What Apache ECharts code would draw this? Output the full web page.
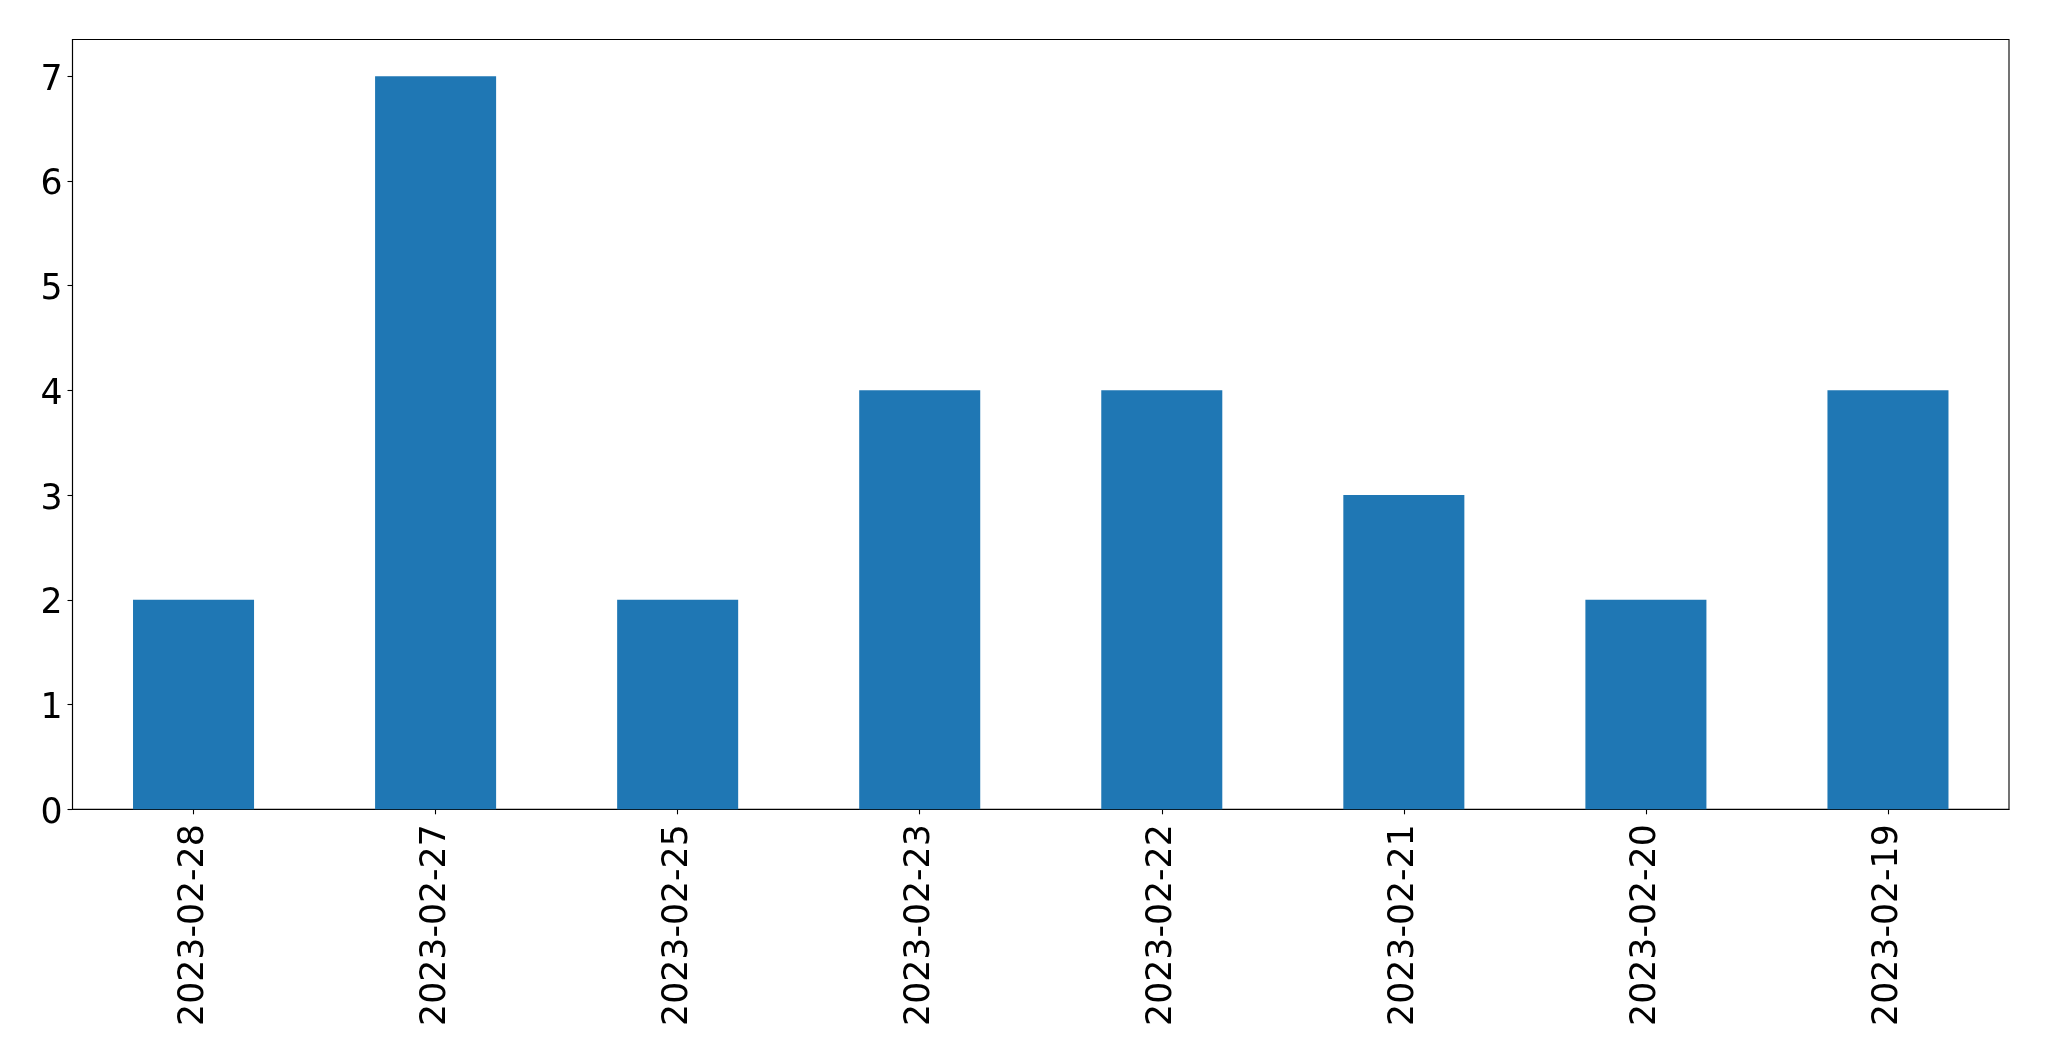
<!DOCTYPE html>
<html><head><meta charset="utf-8">
<script src="https://cdn.jsdelivr.net/npm/echarts@6/dist/echarts.min.js"></script>
<style>html,body{margin:0;padding:0;background:#fff}#c{width:2049px;height:1061px}</style>
</head><body><div id="c"></div>
<script>
const categories = ['2023-02-28','2023-02-27','2023-02-25','2023-02-23','2023-02-22','2023-02-21','2023-02-20','2023-02-19'];
const values = [2, 7, 2, 4, 4, 3, 2, 4];
const yTicks = [0, 1, 2, 3, 4, 5, 6, 7];

const chart = echarts.init(document.getElementById('c'), null, {renderer: 'canvas'});
const font = 'DejaVu Sans';
chart.setOption({
  animation: false,
  grid: {left: 72.5, right: 40, top: 39.5, bottom: 251.7, show: true, borderColor: '#000', borderWidth: 1.1, containLabel: false},
  xAxis: {
    type: 'category', data: categories,
    axisLine: {show: true, lineStyle: {color: '#000', width: 1.1}},
    axisTick: {show: true, alignWithLabel: true, length: 5, lineStyle: {color: '#000', width: 1.1}},
    axisLabel: {rotate: 90, margin: 15, fontFamily: font, fontSize: 34.7, color: '#000', interval: 0}
  },
  yAxis: {
    type: 'value', min: 0, max: 7.35, interval: 1,
    splitLine: {show: false},
    axisLine: {show: true, lineStyle: {color: '#000', width: 1.1}},
    axisTick: {show: true, length: 5, lineStyle: {color: '#000', width: 1.1}, customValues: yTicks},
    axisLabel: {
      margin: 10, customValues: yTicks,
      formatter: v => '{a|' + v + '}',
      rich: {a: {fontFamily: font, fontSize: 34.7, color: '#000', padding: [9, 0, 0, 0]}}
    }
  },
  series: [{
    type: 'bar', data: values, barWidth: '50%',
    itemStyle: {color: '#1f77b4'}
  }]
});
</script></body></html>
